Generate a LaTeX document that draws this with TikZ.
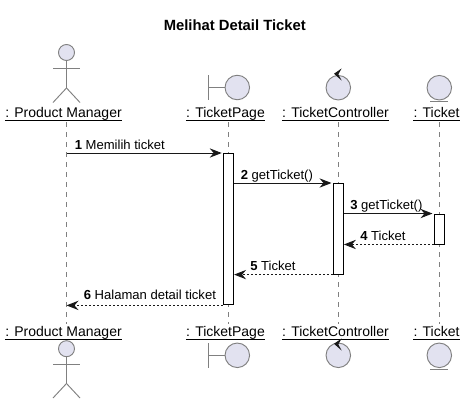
\documentclass[tikz,border=0pt]{standalone}
\usepackage{fontspec}
\setmainfont{Liberation Sans}
\usetikzlibrary{arrows.meta}

\definecolor{partfill}{HTML}{E2E2F0}
\definecolor{partline}{HTML}{808080}
\definecolor{msgline}{HTML}{181818}

\tikzset{
  partlabel/.style={inner sep=0pt, anchor=base, text depth=1.9pt, font=\fontsize{10.5}{12}\selectfont},
  underline/.style={draw=black, line width=0.75pt},
  lifeline/.style={draw=partline, dash pattern=on 3.75pt off 3.75pt, line width=0.6pt},
  figure/.style={draw=partline, line width=0.7pt},
  roundbody/.style={circle, draw=partline, fill=partfill, line width=0.7pt, inner sep=0pt, minimum size=18.4pt},
  headbody/.style={circle, draw=partline, fill=partfill, line width=0.7pt, inner sep=0pt, minimum size=12pt},
  activebar/.style={draw=black, fill=white, line width=0.7pt, inner sep=0pt, minimum width=7.7pt},
  syncmsg/.style={draw=msgline, line width=0.75pt, shorten >=0.9pt, -{Stealth[length=9pt, width=7pt, inset=3pt]}},
  replymsg/.style={syncmsg, shorten >=0pt, dash pattern=on 1.5pt off 1.5pt},
  msglabel/.style={inner sep=0pt, anchor=base west, font=\fontsize{9.8}{11}\selectfont}
}

\begin{document}
\begin{tikzpicture}[x=0.75pt, y=-0.75pt]
    \useasboundingbox (0,0) rectangle (465,404);

    % Title
    \node [inner sep=0pt, font=\fontsize{11.1}{13}\selectfont\bfseries] (title) at (234.8,25) {Melihat Detail Ticket};

    % Labels of the participants, top and bottom
    \node [partlabel] (pmTop) at (63.5,117.7) {: Product Manager};
    \node [partlabel] (pageTop) at (225.5,117.7) {: TicketPage};
    \node [partlabel] (ctrlTop) at (335.5,117.7) {: TicketController};
    \node [partlabel] (ticketTop) at (436.5,117.7) {: Ticket};
    \node [partlabel] (pmBot) at (63.5,336.3) {: Product Manager};
    \node [partlabel] (pageBot) at (225.5,336.3) {: TicketPage};
    \node [partlabel] (ctrlBot) at (335.5,336.3) {: TicketController};
    \node [partlabel] (ticketBot) at (436.5,336.3) {: Ticket};

    % Underline every label
    \draw [underline] (pmTop.south west) -- (pmTop.south east);
    \draw [underline] (pageTop.south west) -- (pageTop.south east);
    \draw [underline] (ctrlTop.south west) -- (ctrlTop.south east);
    \draw [underline] (ticketTop.south west) -- (ticketTop.south east);
    \draw [underline] (pmBot.south west) -- (pmBot.south east);
    \draw [underline] (pageBot.south west) -- (pageBot.south east);
    \draw [underline] (ctrlBot.south west) -- (ctrlBot.south east);
    \draw [underline] (ticketBot.south west) -- (ticketBot.south east);

    % Ends of the lifelines
    \coordinate (pmA) at (66.5,122);
    \coordinate (pmB) at (66.5,324);
    \coordinate (pageA) at (228.5,122);
    \coordinate (pageB) at (228.5,324);
    \coordinate (ctrlA) at (338.3,122);
    \coordinate (ctrlB) at (338.3,324);
    \coordinate (ticketA) at (439.3,122);
    \coordinate (ticketB) at (439.3,324);

    % Draw the lifelines
    \draw [lifeline] (pmA) -- (pmB);
    \draw [lifeline] (pageA) -- (pageB);
    \draw [lifeline] (ctrlA) -- (ctrlB);
    \draw [lifeline] (ticketA) -- (ticketB);

    % Activation bars
    \node [activebar, minimum height=113.6pt] (pageBar) at (228.5,229.2) {};
    \node [activebar, minimum height=68pt] (ctrlBar) at (338.3,228.8) {};
    \node [activebar, minimum height=22.5pt] (ticketBar) at (439.3,229) {};

    % Free ends on the line of the manager
    \coordinate (pmSend) at (pmA |- pageBar.north);
    \coordinate (pmBack) at (pmA |- pageBar.south);

    % Messages
    \draw [syncmsg] (pmSend) -- (pageBar.north west);
    \draw [syncmsg] (pageBar.east |- ctrlBar.north) -- (ctrlBar.north west);
    \draw [syncmsg] (ctrlBar.east |- ticketBar.north) -- (ticketBar.north west);
    \draw [replymsg] (ticketBar.south west) -- (ctrlBar.east |- ticketBar.south);
    \draw [replymsg] (ctrlBar.south west) -- (pageBar.east |- ctrlBar.south);
    \draw [replymsg] (pageBar.south west) -- (pmBack);

    % Message labels
    \node [msglabel] (msgOne) at (74.5,149) {\textbf{1} Memilih ticket};
    \node [msglabel] (msgTwo) at (240.5,179) {\textbf{2} getTicket()};
    \node [msglabel] (msgThree) at (350,209.3) {\textbf{3} getTicket()};
    \node [msglabel] (msgFour) at (360,240) {\textbf{4} Ticket};
    \node [msglabel] (msgFive) at (250,270) {\textbf{5} Ticket};
    \node [msglabel] (msgSix) at (83.5,299.5) {\textbf{6} Halaman detail ticket};

    % Actor, top
    \node [headbody] (pmHeadTop) at (66.5,52.5) {};
    \draw [figure] (pmHeadTop.south) -- (66.5,88) -- (53,102.5);
    \draw [figure] (66.5,88) -- (80,102.5);
    \draw [figure] (53,68) -- (80,68);

    % Actor, bottom
    \node [headbody] (pmHeadBot) at (66.5,348.7) {};
    \draw [figure] (pmHeadBot.south) -- (66.5,383.5) -- (53,398);
    \draw [figure] (66.5,383.5) -- (80,398);
    \draw [figure] (53,364) -- (80,364);

    % Boundary
    \node [roundbody] (pageRoundTop) at (237.3,87.5) {};
    \draw [figure] (208.5,75) -- (208.5,100);
    \draw [figure] (208.5,87.5) -- (pageRoundTop.west);
    \node [roundbody] (pageRoundBot) at (237.3,355.3) {};
    \draw [figure] (208.5,343) -- (208.5,368);
    \draw [figure] (208.5,355.3) -- (pageRoundBot.west);

    % Control, with its small arrow on the circle
    \node [roundbody] (ctrlRoundTop) at (338.3,87.7) {};
    \fill [msgline] (ctrlRoundTop.north) ++(-4.3,-1.2) -- ++(7.7,-5.4) -- ++(-3.4,6) -- ++(3.4,6.2) -- cycle;
    \node [roundbody] (ctrlRoundBot) at (338.3,355.3) {};
    \fill [msgline] (ctrlRoundBot.north) ++(-4.3,1.2) -- ++(7.7,-5.4) -- ++(-3.4,6) -- ++(3.4,6.2) -- cycle;

    % Entity
    \node [roundbody] (ticketRoundTop) at (439.3,87.7) {};
    \draw [figure] (ticketRoundTop.south west |- 0,101.5) -- (ticketRoundTop.south east |- 0,101.5);
    \node [roundbody] (ticketRoundBot) at (439.3,355.3) {};
    \draw [figure] (ticketRoundBot.south west |- 0,369.2) -- (ticketRoundBot.south east |- 0,369.2);

\end{tikzpicture}
\end{document}
